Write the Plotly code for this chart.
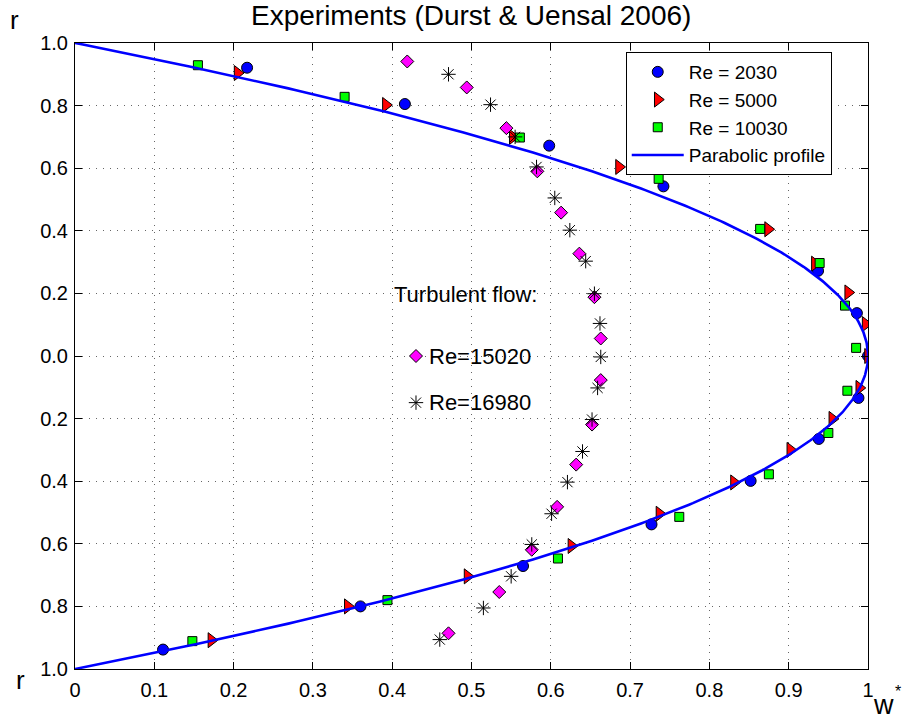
import numpy as np
import plotly.graph_objects as go

# ---- data ----
re2030_w = [0.217, 0.416, 0.598, 0.742, 0.937, 0.986, 1.000, 0.988, 0.938, 0.852, 0.727, 0.565, 0.360, 0.111]
re2030_r = [0.921, 0.805, 0.672, 0.542, 0.272, 0.137, 0.000, -0.134, -0.265, -0.399, -0.538, -0.671, -0.800, -0.938]

re5000_w = [0.205, 0.392, 0.552, 0.686, 0.874, 0.933, 0.975, 0.997, 1.000, 0.989, 0.955, 0.902, 0.831, 0.737, 0.626, 0.495, 0.344, 0.172]
re5000_r = [0.904, 0.802, 0.700, 0.604, 0.405, 0.295, 0.203, 0.102, 0.000, -0.102, -0.201, -0.300, -0.404, -0.504, -0.607, -0.704, -0.800, -0.908]

re10030_w = [0.155, 0.340, 0.561, 0.736, 0.864, 0.939, 0.971, 0.985, 0.974, 0.950, 0.875, 0.762, 0.609, 0.394, 0.148]
re10030_r = [0.929, 0.828, 0.698, 0.566, 0.406, 0.297, 0.161, 0.026, -0.111, -0.246, -0.378, -0.514, -0.647, -0.780, -0.911]

re15020_w = [0.419, 0.494, 0.544, 0.583, 0.613, 0.636, 0.655, 0.663, 0.663, 0.652, 0.632, 0.608, 0.576, 0.535, 0.471]
re15020_r = [0.941, 0.858, 0.728, 0.590, 0.458, 0.327, 0.188, 0.056, -0.077, -0.219, -0.347, -0.482, -0.619, -0.754, -0.886]

re16980_w = [0.471, 0.524, 0.555, 0.582, 0.605, 0.624, 0.644, 0.655, 0.662, 0.663, 0.659, 0.652, 0.640, 0.621, 0.601, 0.576, 0.550, 0.515, 0.460]
re16980_r = [0.900, 0.803, 0.700, 0.604, 0.505, 0.402, 0.303, 0.199, 0.104, -0.003, -0.102, -0.203, -0.305, -0.403, -0.504, -0.602, -0.704, -0.805, -0.906]

# key markers placed next to the in-plot "Turbulent flow" labels
key_w = [0.43, 0.43]
key_r = [0.0, -0.149]
key_labels = ["Re=15020", "Re=16980"]

y_tickvals = [-1.0, -0.8, -0.6, -0.4, -0.2, 0.0, 0.2, 0.4, 0.6, 0.8, 1.0]
y_ticktext = ["1.0", "0.8", "0.6", "0.4", "0.2", "0.0", "0.2", "0.4", "0.6", "0.8", "1.0"]
x_tickvals = [0, 0.1, 0.2, 0.3, 0.4, 0.5, 0.6, 0.7, 0.8, 0.9, 1.0]
x_ticktext = ["0", "0.1", "0.2", "0.3", "0.4", "0.5", "0.6", "0.7", "0.8", "0.9", "1"]

# parabolic (laminar) profile w* = 1 - r^2
r_par = np.linspace(-1, 1, 401)
w_par = 1 - r_par ** 2

FONT = "Liberation Sans, Arial, Helvetica, sans-serif"
edge = dict(color="black", width=1)

fig = go.Figure()
fig.add_trace(go.Scatter(x=re2030_w, y=re2030_r, mode="markers", name="Re = 2030",
                         marker=dict(symbol="circle", size=11, color="#0000ff", line=edge)))
fig.add_trace(go.Scatter(x=re5000_w, y=re5000_r, mode="markers", name="Re = 5000",
                         marker=dict(symbol="triangle-right", size=13, color="#ff0000", line=edge)))
fig.add_trace(go.Scatter(x=re10030_w, y=re10030_r, mode="markers", name="Re = 10030",
                         marker=dict(symbol="square", size=9, color="#00ff00", line=edge)))
fig.add_trace(go.Scatter(x=re15020_w, y=re15020_r, mode="markers", name="Re=15020", showlegend=False,
                         marker=dict(symbol="diamond", size=10, color="#ff00ff", line=edge)))
fig.add_trace(go.Scatter(x=re16980_w, y=re16980_r, mode="markers", name="Re=16980", showlegend=False,
                         marker=dict(symbol="asterisk-open", size=12, color="black",
                                     line=dict(color="black", width=1))))
fig.add_trace(go.Scatter(x=key_w[:1], y=key_r[:1], mode="markers", showlegend=False, hoverinfo="skip",
                         marker=dict(symbol="diamond", size=10, color="#ff00ff", line=edge)))
fig.add_trace(go.Scatter(x=key_w[1:], y=key_r[1:], mode="markers", showlegend=False, hoverinfo="skip",
                         marker=dict(symbol="asterisk-open", size=12, color="black",
                                     line=dict(color="black", width=1))))
fig.add_trace(go.Scatter(x=w_par, y=r_par, mode="lines", name="Parabolic profile",
                         line=dict(color="#0000ff", width=2.6)))

annotations = [
    dict(x=0.40, y=0.197, xref="x", yref="y", text="Turbulent flow:", showarrow=False,
         xanchor="left", yanchor="middle", font=dict(size=22, color="black", family=FONT)),
]
for w, r, t in zip(key_w, key_r, key_labels):
    annotations.append(dict(x=w + 0.0035, y=r, xref="x", yref="y", text=t, showarrow=False,
                            xanchor="left", yanchor="middle", xshift=8,
                            font=dict(size=22, color="black", family=FONT)))

def px_to_paper(px, py):
    return (px - 74.6) / 793.4, (668.7 - py) / 626.0

for txt, (px, py), size in [("r", (14, 20), 26), ("r", (20, 680), 26), ("w", (884, 705), 27), ("*", (898, 691), 16)]:
    xp, yp = px_to_paper(px, py)
    annotations.append(dict(x=xp, y=yp, xref="paper", yref="paper", text=txt, showarrow=False,
                            xanchor="center", yanchor="middle", font=dict(size=size, color="black", family=FONT)))

grid_dash = "1px,6px"
axis_common = dict(showline=True, linecolor="black", linewidth=1, mirror="ticks",
                   ticks="inside", ticklen=7, tickcolor="black", tickwidth=1,
                   showgrid=True, gridcolor="#666666", griddash=grid_dash, gridwidth=1,
                   zeroline=False, tickfont=dict(size=20, color="black", family=FONT))

fig.update_layout(
    width=902, height=719,
    margin=dict(l=74.6, r=34, t=42.7, b=50.3),
    paper_bgcolor="white", plot_bgcolor="white",
    font=dict(family=FONT, color="black"),
    title=dict(text="Experiments (Durst & Uensal 2006)", x=0.5224, xanchor="center",
               y=1 - 15 / 719, yanchor="middle", font=dict(size=28, color="black", family=FONT)),
    xaxis=dict(range=[0, 1], tickvals=x_tickvals, ticktext=x_ticktext, ticklabelstandoff=3, **axis_common),
    yaxis=dict(range=[-1, 1], tickvals=y_tickvals, ticktext=y_ticktext, ticklabelstandoff=2, **axis_common),
    legend=dict(x=0.6945, y=0.9856, xanchor="left", yanchor="top", bgcolor="white",
                bordercolor="black", borderwidth=1, font=dict(size=19, color="black", family=FONT),
                itemwidth=52, tracegroupgap=0),
    annotations=annotations,
    showlegend=True,
)

fig.write_html("out.html")
